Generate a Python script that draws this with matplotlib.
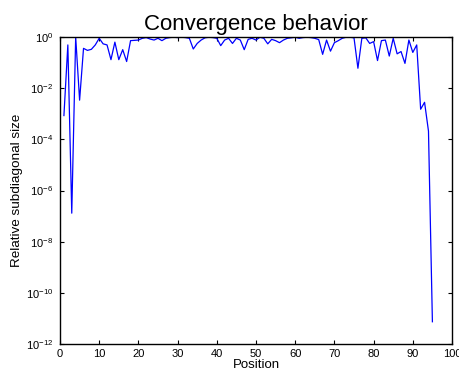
import matplotlib
matplotlib.use("Agg")
import matplotlib.pyplot as plt
from matplotlib.ticker import NullLocator

plt.rcParams['font.family'] = ['Liberation Sans', 'DejaVu Sans']
plt.rcParams['mathtext.fontset'] = 'custom'
plt.rcParams['mathtext.rm'] = 'Liberation Sans'

# relative subdiagonal size at each position
position = list(range(1, 96))
subdiag = [8.5e-4, 0.49, 1.3e-7, 1.0, 3.4e-3, 0.36, 0.30, 0.33, 0.49, 0.89,
           0.54, 0.49, 0.13, 0.63, 0.13, 0.32, 0.11, 0.72, 0.74, 0.76,
           0.89, 0.95, 0.83, 0.76, 0.89, 0.72, 0.89, 0.95, 0.98, 0.95,
           0.98, 0.95, 0.89, 0.34, 0.56, 0.76, 0.93, 0.98, 0.95, 0.89,
           0.46, 0.76, 0.89, 0.56, 0.89, 0.76, 0.32, 0.81, 0.89, 0.76,
           0.98, 0.89, 0.54, 0.81, 0.72, 0.60, 0.76, 0.89, 0.93, 0.98,
           0.89, 0.95, 0.98, 0.95, 0.89, 0.79, 0.21, 0.76, 0.28, 0.60,
           0.72, 0.89, 0.98, 0.98, 0.93, 0.060, 0.89, 0.93, 0.56, 0.66,
           0.12, 0.72, 0.76, 0.18, 0.89, 0.22, 0.27, 0.093, 0.76, 0.25,
           0.49, 1.5e-3, 2.8e-3, 2.1e-4, 7.4e-12]

xticks = list(range(0, 101, 10))
yticks = [1e-12, 1e-10, 1e-8, 1e-6, 1e-4, 1e-2, 1e0]
ytick_labels = [r'$10^{%d}$' % e for e in range(-12, 1, 2)]

fig = plt.figure(figsize=(4.59, 3.77), dpi=100)
ax = fig.add_axes([60 / 459, 33 / 377, 392 / 459, 307 / 377])

ax.semilogy(position, subdiag, color='#0000ff', linewidth=0.9)

ax.set_xlim(0, 100)
ax.set_ylim(1e-12, 1e0)
ax.set_xticks(xticks)
ax.set_yticks(yticks)
ax.set_yticklabels(ytick_labels)
ax.yaxis.set_minor_locator(NullLocator())

ax.tick_params(direction='in', top=True, right=True, labelsize=8, length=3, width=0.8)
ax.tick_params(axis='y', pad=5)
for s in ax.spines.values():
    s.set_linewidth(1.0)

ax.set_title('Convergence behavior', fontsize=16, pad=5)
ax.set_xlabel('Position', fontsize=9.5, labelpad=0)
ax.set_ylabel('Relative subdiagonal size', fontsize=9.7, labelpad=2)

fig.savefig('out.png', dpi=100)
